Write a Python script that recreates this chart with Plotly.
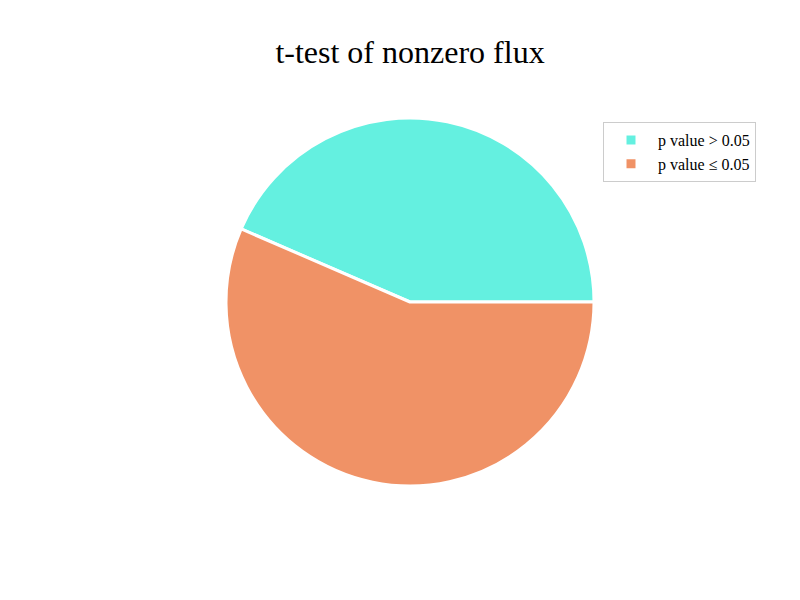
import plotly.graph_objects as go

labels = ["p value > 0.05", "p value ≤ 0.05"]
values = [43.5, 56.5]
colors = ["#64F0E0", "#F09266"]

# matplotlib-style: first wedge starts at 3 o'clock and goes counterclockwise.
# Equivalent in plotly: draw clockwise, starting where the first wedge ends.
start_rot = 90 - 360 * values[0] / sum(values)

fig = go.Figure(go.Pie(
    labels=labels,
    values=values,
    sort=False,
    direction="clockwise",
    rotation=start_rot,
    textinfo="none",
    hoverinfo="label+percent",
    marker=dict(colors=colors, line=dict(color="white", width=3)),
    domain=dict(x=[(410 - 184) / 800, (410 + 184) / 800],
                y=[(298 - 184) / 600, (298 + 184) / 600]),
))

fig.update_layout(
    width=800, height=600,
    margin=dict(l=0, r=0, t=0, b=0),
    paper_bgcolor="white", plot_bgcolor="white",
    font=dict(family="Liberation Serif, Times New Roman, serif", color="black"),
    title=dict(text="t-test of nonzero flux", x=410 / 800, xanchor="center",
               y=1 - 52 / 600, yanchor="middle",
               font=dict(size=32, family="Liberation Serif, Times New Roman, serif", color="black")),
    legend=dict(x=603 / 800, y=1 - 122 / 600, xanchor="left", yanchor="top",
                bordercolor="#cccccc", borderwidth=1, bgcolor="white",
                itemwidth=44,
                font=dict(size=16, family="Liberation Serif, Times New Roman, serif", color="black"),
                traceorder="normal"),
    showlegend=True,
)

fig.write_html("out.html")
